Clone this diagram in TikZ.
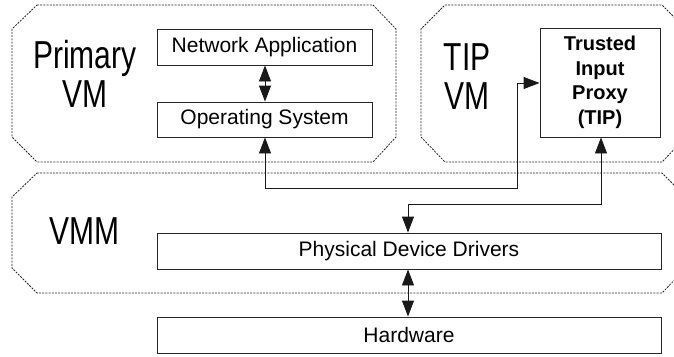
\documentclass[tikz,border=0pt]{standalone}
\usepackage{fontspec}
\usepackage{graphicx}
\setmainfont{Liberation Sans}
\usetikzlibrary{arrows.meta}
\newcommand{\tallstack}[1]{\scalebox{1}[1.3]{\fontsize{30}{30}\selectfont\begin{tabular}{@{}c@{}}#1\end{tabular}}}
\begin{document}
\begin{tikzpicture}[x=1pt,y=-1pt,
  vmzone/.style={draw=black!85,line width=0.8pt,dash pattern=on 2pt off 1.2pt},
  layerbox/.style={draw=black!85,line width=0.9pt,rectangle,inner sep=0pt,
     font=\fontsize{21}{24}\selectfont},
  biglabel/.style={inner sep=0pt},
  conn/.style={draw=black!90,line width=0.9pt,{Triangle[length=16pt,width=12pt]}-{Triangle[length=16pt,width=12pt]}}
]
\useasboundingbox (0,0) rectangle (674,356);
\clip (0,0) rectangle (674,356);
% VM zones
\draw[vmzone] (37,5) -- (373,5) -- (396,29) -- (396,137) -- (373,162) -- (37,162) -- (12,137) -- (12,29) -- cycle;
\draw[vmzone] (445,5) -- (662,5) -- (686,29) -- (686,137) -- (662,162) -- (445,162) -- (421,137) -- (421,29) -- cycle;
\draw[vmzone] (37,173) -- (662,173) -- (686,197) -- (686,268) -- (662,293) -- (37,293) -- (12,268) -- (12,197) -- cycle;
% labels
\node[biglabel] (lprim) at (85,80) {\tallstack{Primary\\VM}};
\node[biglabel] (ltip) at (467,82) {\tallstack{TIP\\VM}};
\node[biglabel] (lvmm) at (84,237) {\tallstack{VMM}};
% boxes
\node[layerbox,minimum width=215pt,minimum height=36pt] (app) at (264.5,47) {Network Application};
\node[layerbox,minimum width=215pt,minimum height=35pt] (os) at (264.5,119.5) {Operating System};
\node[layerbox,minimum width=120pt,minimum height=109pt,align=center,
      font=\fontsize{20}{24.5}\selectfont\bfseries] (tip) at (600,82.5) {Trusted\\Input\\Proxy\\(TIP)};
\node[layerbox,minimum width=504pt,minimum height=36pt] (pdd) at (409,251) {Physical Device Drivers};
\node[layerbox,minimum width=504pt,minimum height=36pt] (hw) at (409,335) {Hardware};
% connectors
\draw[conn] (app.south -| 265,0) -- (os.north -| 265,0);
\draw[conn] (pdd.south -| 408,0) -- (hw.north -| 408,0);
\draw[conn] (os.south -| 265,0) -- (265,188) -- (517,188) -- (517,83) -- (tip.west |- 0,83);
\draw[conn] (tip.south -| 601,0) -- (601,204) -- (408,204) -- (pdd.north -| 408,0);
\end{tikzpicture}
\end{document}
